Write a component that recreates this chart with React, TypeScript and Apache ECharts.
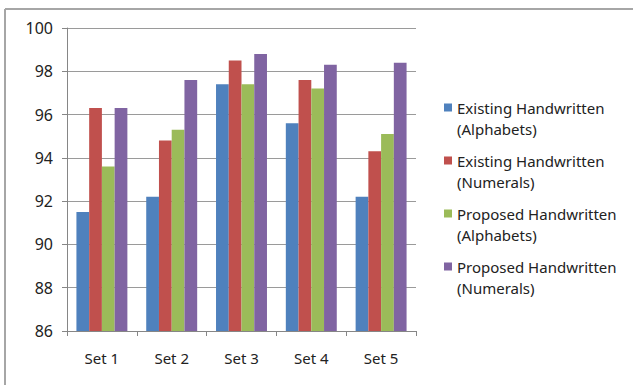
import React, { useEffect, useRef } from "react";
import * as echarts from "echarts";

const categories = ["Set 1", "Set 2", "Set 3", "Set 4", "Set 5"];
const seriesNames = [
  "Existing Handwritten\n(Alphabets)",
  "Existing Handwritten\n(Numerals)",
  "Proposed Handwritten\n(Alphabets)",
  "Proposed Handwritten\n(Numerals)",
];
const existingAlphabets = [91.5, 92.2, 97.4, 95.6, 92.2];
const existingNumerals = [96.3, 94.8, 98.5, 97.6, 94.3];
const proposedAlphabets = [93.6, 95.3, 97.4, 97.2, 95.1];
const proposedNumerals = [96.3, 97.6, 98.8, 98.3, 98.4];
const colors = ["#4F81BD", "#C0504D", "#9BBB59", "#8064A2"];

const FONT = "'Noto Sans', sans-serif";

export default function App() {
  const ref = useRef<HTMLDivElement>(null);
  useEffect(() => {
    if (!ref.current) return;
    const chart = echarts.init(ref.current, undefined, { renderer: "svg" });
    const values = [existingAlphabets, existingNumerals, proposedAlphabets, proposedNumerals];
    const icon = "path://M0,6.5h8v8h-8z M0,0h0.01v0.01h-0.01z M0,41.99h0.01v0.01h-0.01z";
    chart.setOption({
      animation: false,
      color: colors,
      textStyle: { fontFamily: FONT },
      grid: { left: 67, right: 217, top: 28, bottom: 54 },
      legend: {
        orient: "vertical",
        left: 444,
        top: 97,
        padding: 0,
        itemWidth: 8,
        itemHeight: 42,
        itemGap: 11,
        icon,
        textStyle: { fontSize: 15, lineHeight: 21, color: "#222", fontFamily: FONT },
        data: seriesNames,
      },
      xAxis: {
        type: "category",
        data: categories,
        axisLine: { lineStyle: { color: "#868686" } },
        axisTick: { show: true, length: 5, lineStyle: { color: "#868686" } },
        axisLabel: { fontSize: 15, color: "#222", margin: 19, fontFamily: FONT },
      },
      yAxis: {
        type: "value",
        min: 86,
        max: 100,
        interval: 2,
        axisLine: { show: true, lineStyle: { color: "#868686" } },
        axisTick: { show: true, length: 5, lineStyle: { color: "#868686" } },
        axisLabel: { fontSize: 16, color: "#222", margin: 14, fontFamily: FONT },
        splitLine: { lineStyle: { color: "#9a9a9a" } },
      },
      graphic: [
        { type: "line", shape: { x1: 5, y1: 9, x2: 633, y2: 9 }, style: { stroke: "#a6a6a6", lineWidth: 2 } },
        { type: "line", shape: { x1: 5, y1: 9, x2: 5, y2: 385 }, style: { stroke: "#a6a6a6", lineWidth: 2 } },
      ],
      series: seriesNames.map((name, i) => ({
        name,
        type: "bar",
        data: values[i],
        barGap: "0%",
        barCategoryGap: "27%",
        itemStyle: { color: colors[i] },
      })),
    });
    return () => chart.dispose();
  }, []);
  return (
    <div
      ref={ref}
      style={{ position: "fixed", left: 0, top: 0, width: 633, height: 385, background: "#fff" }}
    />
  );
}
